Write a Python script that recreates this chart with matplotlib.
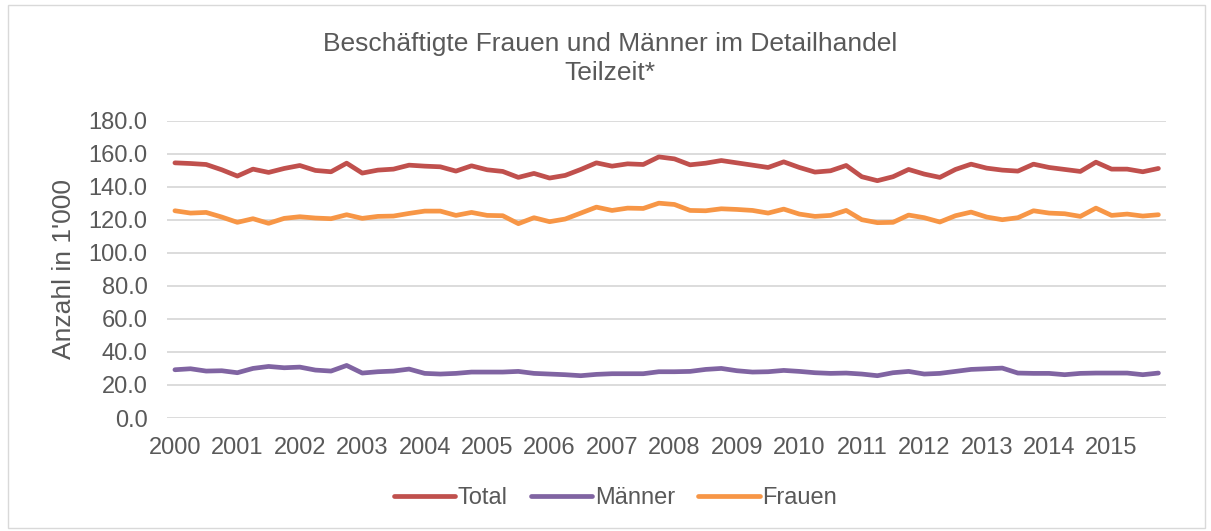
import matplotlib
matplotlib.use('Agg')
import matplotlib.pyplot as plt
from matplotlib.patches import Rectangle

# Quartalswerte 2000 Q1 .. 2015 Q4 (Anzahl in 1'000)
jahre = list(range(2000, 2016))

total = [154.4, 154.0, 153.4, 150.2, 146.4, 150.6, 148.6, 151.0, 152.8, 149.8,
         149.0, 154.2, 148.2, 150.0, 150.6, 153.0, 152.4, 152.0, 149.4, 152.6,
         150.2, 149.2, 145.6, 148.0, 145.2, 146.8, 150.4, 154.4, 152.4, 153.8,
         153.4, 158.0, 156.8, 153.2, 154.2, 155.8, 154.4, 153.0, 151.6, 155.0,
         151.6, 148.8, 149.6, 152.8, 146.0, 143.6, 146.0, 150.4, 147.6, 145.6,
         150.4, 153.6, 151.2, 150.0, 149.4, 153.6, 151.6, 150.4, 149.2, 154.8,
         150.6, 150.6, 149.0, 151.0]

maenner = [29.2, 29.8, 28.4, 28.6, 27.4, 30.0, 31.2, 30.4, 30.8, 29.0,
           28.4, 31.8, 27.2, 28.0, 28.4, 29.6, 27.0, 26.6, 27.0, 27.8,
           27.8, 27.8, 28.2, 27.0, 26.6, 26.2, 25.6, 26.4, 26.8, 26.8,
           26.8, 28.0, 28.0, 28.2, 29.4, 30.0, 28.6, 27.8, 28.0, 28.8,
           28.2, 27.4, 27.0, 27.2, 26.6, 25.6, 27.4, 28.2, 26.6, 27.0,
           28.2, 29.4, 29.8, 30.2, 27.2, 27.0, 27.0, 26.2, 27.0, 27.2,
           27.2, 27.2, 26.2, 27.2]

frauen = [125.4, 124.0, 124.4, 121.6, 118.4, 120.6, 117.8, 120.8, 121.8, 121.0,
          120.6, 123.0, 120.8, 122.0, 122.2, 123.8, 125.2, 125.2, 122.6, 124.4,
          122.6, 122.4, 117.6, 121.2, 118.8, 120.4, 124.0, 127.6, 125.6, 127.0,
          126.8, 130.0, 129.2, 125.6, 125.4, 126.6, 126.2, 125.6, 124.0, 126.4,
          123.4, 122.0, 122.6, 125.6, 120.0, 118.2, 118.4, 122.8, 121.2, 118.6,
          122.4, 124.6, 121.6, 120.0, 121.2, 125.4, 124.0, 123.6, 122.0, 127.0,
          122.6, 123.4, 122.2, 123.0]

TEXT = '#595959'
GRID = '#D9D9D9'

plt.rcParams['font.family'] = ['Liberation Sans', 'DejaVu Sans']

fig = plt.figure(figsize=(12.11, 5.31), dpi=100)
ax = fig.add_axes([0.138, 0.2128, 0.825, 0.5602])

x = list(range(len(total)))
ax.plot(x, total, color='#C0504D', linewidth=3.4, label='Total', solid_capstyle='round')
ax.plot(x, maenner, color='#8064A2', linewidth=3.4, label='Männer', solid_capstyle='round')
ax.plot(x, frauen, color='#F79646', linewidth=3.4, label='Frauen', solid_capstyle='round')

ax.set_xlim(-0.5, len(total) - 0.5)
ax.set_ylim(0, 180)
ax.set_yticks(range(0, 181, 20))
ax.set_yticklabels([f'{v:.1f}' for v in range(0, 181, 20)])
ax.set_xticks(range(0, len(total), 4))
ax.set_xticklabels([str(j) for j in jahre])
ax.tick_params(axis='both', length=0, labelsize=17, colors=TEXT)
ax.tick_params(axis='y', pad=14)
ax.tick_params(axis='x', pad=14)
ax.grid(axis='y', color=GRID, linewidth=1.3)
ax.set_axisbelow(True)
for s in ax.spines.values():
    s.set_visible(False)

ax.set_ylabel("Anzahl in 1'000", fontsize=19, color=TEXT, labelpad=9)

fig.text(0.504, 0.917, 'Beschäftigte Frauen und Männer im Detailhandel',
         ha='center', va='center', fontsize=19, color=TEXT)
fig.text(0.504, 0.862, 'Teilzeit*', ha='center', va='center', fontsize=19, color=TEXT)

leg = fig.legend(loc='center', bbox_to_anchor=(0.508, 0.062), ncol=3, frameon=False,
                 fontsize=17, handlelength=2.6, handletextpad=0.1, columnspacing=1.0)
for t in leg.get_texts():
    t.set_color(TEXT)

fig.patches.append(Rectangle((0.007, 0.006), 0.988, 0.985, transform=fig.transFigure,
                             fill=False, edgecolor=GRID, linewidth=1.0))

fig.savefig('out.png', dpi=100)
